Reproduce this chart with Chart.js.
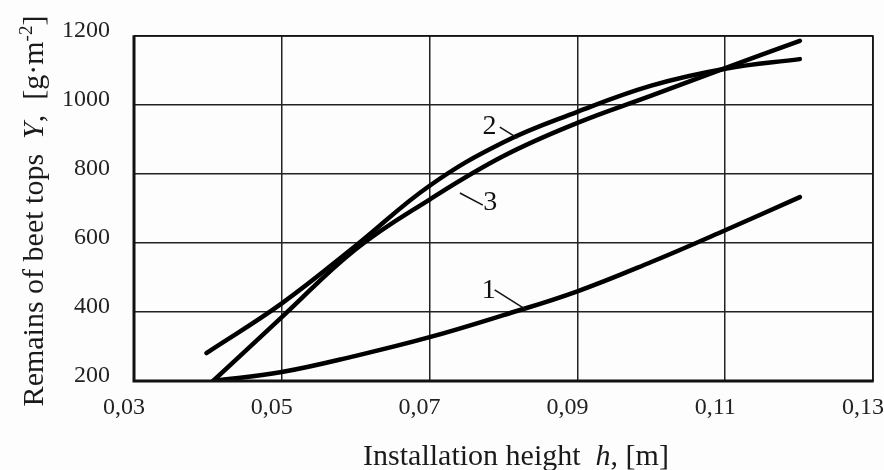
<!DOCTYPE html>
<html>
<head>
<meta charset="utf-8">
<script src="https://cdn.jsdelivr.net/npm/chart.js@4.4.0/dist/chart.umd.min.js"></script>
<style>
html,body{margin:0;padding:0;background:#fdfdfd;}
#wrap{width:884px;height:470px;position:relative;}
</style>
</head>
<body>
<div id="wrap"><canvas id="c" width="884" height="470"></canvas></div>
<script>
// ---- data ----
const xTicks = [0.03, 0.05, 0.07, 0.09, 0.11, 0.13];
const yTicks = [200, 400, 600, 800, 1000, 1200];

const curve1X = [0.0407, 0.05, 0.06, 0.07, 0.08, 0.09, 0.10, 0.11, 0.1201];
const curve1Y = [200, 226, 273, 327, 391, 460, 545, 637, 733];

const curve2X = [0.0398, 0.05, 0.06, 0.07, 0.08, 0.09, 0.10, 0.11, 0.1201];
const curve2Y = [281, 425, 592, 766, 892, 980, 1056, 1105, 1133];

const curve3X = [0.0407, 0.05, 0.06, 0.07, 0.08, 0.09, 0.10, 0.11, 0.1201];
const curve3Y = [200, 385, 582, 726, 852, 948, 1027, 1107, 1186];

// curve labels: text, text anchor (data), leader line start/end (data)
const curveLabels = ["1", "2", "3"];
const labelAt   = [[0.0780, 463], [0.0781, 938], [0.0782, 716]];
const leaderFrom = [[0.0788, 464], [0.0795, 936], [0.0741, 745]];
const leaderTo   = [[0.0831, 406], [0.0819, 904], [0.0772, 710]];

const xTitleParts = [["Installation height  ", "normal"], ["h", "italic"], [", [m]", "normal"]];
const yTitleParts = [["Remains of beet tops  ", "normal"], ["Y", "italic"], [",  [g·m", "normal"], ["-2", "sup"], ["]", "normal"]];

const FONT = "'Liberation Serif', 'Times New Roman', serif";

function pts(xs, ys){ return xs.map((x,i)=>({x:x, y:ys[i]})); }

function drawParts(ctx, parts, size){
  let total = 0;
  const fonts = parts.map(p=>{
    if(p[1]==="italic") return "italic " + size + "px " + FONT;
    if(p[1]==="sup") return Math.round(size*0.62) + "px " + FONT;
    return size + "px " + FONT;
  });
  parts.forEach((p,i)=>{ ctx.font = fonts[i]; total += ctx.measureText(p[0]).width; });
  let x = -total/2;
  parts.forEach((p,i)=>{
    ctx.font = fonts[i];
    const dy = p[1]==="sup" ? -size*0.38 : 0;
    ctx.fillText(p[0], x, dy);
    x += ctx.measureText(p[0]).width;
  });
}

const annotPlugin = {
  id: 'annot',
  afterDatasetsDraw(chart){
    const ctx = chart.ctx, xs = chart.scales.x, ys = chart.scales.y;
    ctx.save();
    ctx.fillStyle = '#111';
    ctx.strokeStyle = '#111';
    ctx.lineWidth = 1.5;
    ctx.textAlign = 'center';
    ctx.textBaseline = 'middle';
    ctx.font = "28px " + FONT;
    curveLabels.forEach((t,i)=>{
      ctx.fillText(t, xs.getPixelForValue(labelAt[i][0]), ys.getPixelForValue(labelAt[i][1]));
      ctx.beginPath();
      ctx.moveTo(xs.getPixelForValue(leaderFrom[i][0]), ys.getPixelForValue(leaderFrom[i][1]));
      ctx.lineTo(xs.getPixelForValue(leaderTo[i][0]), ys.getPixelForValue(leaderTo[i][1]));
      ctx.stroke();
    });
    // frame: thick left & bottom, thinner top & right
    const a = chart.chartArea;
    ctx.lineWidth = 1.5;
    ctx.beginPath();
    ctx.moveTo(a.left, a.top); ctx.lineTo(a.right, a.top); ctx.lineTo(a.right, a.bottom);
    ctx.stroke();
    ctx.lineWidth = 3;
    ctx.beginPath();
    ctx.moveTo(a.left, a.top-0.75); ctx.lineTo(a.left, a.bottom); ctx.lineTo(a.right+0.75, a.bottom);
    ctx.stroke();
    // axis titles
    ctx.fillStyle = '#1a1a1a';
    ctx.textBaseline = 'alphabetic';
    ctx.textAlign = 'left';
    ctx.save();
    ctx.translate(516, 465);
    drawParts(ctx, xTitleParts, 30);
    ctx.restore();
    ctx.save();
    ctx.translate(43, 211);
    ctx.rotate(-Math.PI/2);
    drawParts(ctx, yTitleParts, 30);
    ctx.restore();
    ctx.restore();
  }
};

const lineStyle = {borderColor:'#000', borderWidth:4.5, pointRadius:0, fill:false,
  tension:0.4, borderCapStyle:'round', borderJoinStyle:'round'};

new Chart(document.getElementById('c'), {
  type: 'line',
  data: {
    datasets: [
      Object.assign({label:'1', data: pts(curve1X, curve1Y)}, lineStyle),
      Object.assign({label:'2', data: pts(curve2X, curve2Y)}, lineStyle),
      Object.assign({label:'3', data: pts(curve3X, curve3Y)}, lineStyle)
    ]
  },
  options: {
    responsive: false,
    animation: false,
    layout: {padding: {left: 0, right: 11, top: 36, bottom: 0}},
    plugins: {legend:{display:false}, tooltip:{enabled:false}},
    scales: {
      x: {
        type: 'linear',
        min: xTicks[0], max: xTicks[xTicks.length-1],
        afterBuildTicks(s){ s.ticks = xTicks.map(v=>({value:v})); },
        afterFit(s){ s.height = 89; s.paddingRight = 0; s.paddingLeft = 0; },
        grid: {color:'#222', lineWidth:1.5, drawTicks:false},
        border: {display:false},
        ticks: {padding: 12, labelOffset: -10, color:'#222', font:{family:FONT, size:24},
          callback: v => v.toFixed(2).replace('.', ','), maxRotation:0}
      },
      y: {
        type: 'linear',
        min: yTicks[0], max: yTicks[yTicks.length-1],
        afterBuildTicks(s){ s.ticks = yTicks.map(v=>({value:v})); },
        afterFit(s){ s.width = 134; s.paddingTop = 0; s.paddingBottom = 0; },
        grid: {color:'#222', lineWidth:1.5, drawTicks:false},
        border: {display:false},
        ticks: {padding: 24, labelOffset: -5, color:'#222', font:{family:FONT, size:24},
          callback: v => String(v)}
      }
    }
  },
  plugins: [annotPlugin]
});
</script>
</body>
</html>
